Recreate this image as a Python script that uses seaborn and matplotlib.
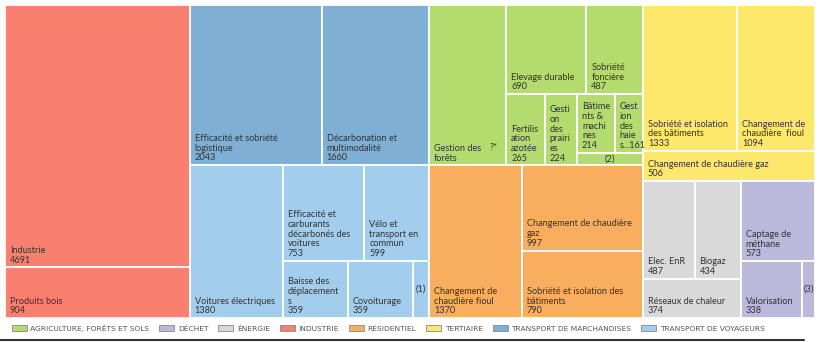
import matplotlib.pyplot as plt
import seaborn as sns
from matplotlib.patches import Patch
from matplotlib.lines import Line2D


# sectors (legend order) and colours
categories = ["AGRICULTURE, FORÊTS ET SOLS", "DÉCHET", "ÉNERGIE", "INDUSTRIE",
              "RÉSIDENTIEL", "TERTIAIRE", "TRANSPORT DE MARCHANDISES",
              "TRANSPORT DE VOYAGEURS"]
sector_colors = ["#B4DB6D", "#BAB8DB", "#D9D9D9", "#F9806F",
                 "#F9AD5E", "#FDE86B", "#7FAFD4", "#A3CDEC"]

# levers per sector
industrie_labels = ["Industrie", "Produits bois"]
industrie_values = [4691, 904]

marchandises_labels = ["Efficacité et sobriété\nlogistique", "Décarbonation et\nmultimodalité"]
marchandises_values = [2043, 1660]

voyageurs_labels = ["Voitures électriques", "Efficacité et\ncarburants\ndécarbonés des\nvoitures",
                    "Vélo et\ntransport en\ncommun", "Baisse des\ndéplacement\ns",
                    "Covoiturage", "(1)"]
voyageurs_values = [1380, 753, 599, 359, 359, 90]

agriculture_labels = ["Gestion des\nforêts", "Elevage durable", "Sobriété\nfoncière",
                      "Fertilis\nation\nazotée", "Gesti\non\ndes\nprairi\nes",
                      "Bâtime\nnts &\nmachi\nnes", "Gest\nion\ndes\nhaie\ns...", "(2)"]
agriculture_values = [1200, 690, 487, 265, 224, 214, 161, 80]  # forêts: shown as "?*"

residentiel_labels = ["Changement de\nchaudière fioul", "Changement de chaudière\ngaz",
                      "Sobriété et isolation des\nbâtiments"]
residentiel_values = [1370, 997, 790]

tertiaire_labels = ["Sobriété et isolation\ndes bâtiments", "Changement de\nchaudière  fioul",
                    "Changement de chaudière gaz"]
tertiaire_values = [1333, 1094, 506]

energie_labels = ["Elec. EnR", "Biogaz", "Réseaux de chaleur"]
energie_values = [487, 434, 374]

dechet_labels = ["Captage de\nméthane", "Valorisation", "(3)"]
dechet_values = [573, 338, 70]

sectors = {
    "ind": (categories[3], industrie_labels, industrie_values),
    "mar": (categories[6], marchandises_labels, marchandises_values),
    "voy": (categories[7], voyageurs_labels, voyageurs_values),
    "agr": (categories[0], agriculture_labels, agriculture_values),
    "res": (categories[4], residentiel_labels, residentiel_values),
    "ter": (categories[5], tertiaire_labels, tertiaire_values),
    "ene": (categories[2], energie_labels, energie_values),
    "dec": (categories[1], dechet_labels, dechet_values),
}

# arrangement: 'h' = side by side, 'v' = stacked top to bottom
tree = ("h", [
    ("v", [("ind", 0), ("ind", 1)]),
    ("v", [("h", [("mar", 0), ("mar", 1)]),
           ("h", [("voy", 0),
                  ("v", [("h", [("voy", 1), ("voy", 2)]),
                         ("h", [("voy", 3), ("voy", 4), ("voy", 5)])])])]),
    ("v", [("h", [("agr", 0),
                  ("v", [("h", [("agr", 1), ("agr", 2)]),
                         ("h", [("agr", 3), ("agr", 4),
                                ("v", [("h", [("agr", 5), ("agr", 6)]), ("agr", 7)])])])]),
           ("h", [("res", 0), ("v", [("res", 1), ("res", 2)])])]),
    ("v", [("v", [("h", [("ter", 0), ("ter", 1)]), ("ter", 2)]),
           ("h", [("v", [("h", [("ene", 0), ("ene", 1)]), ("ene", 2)]),
                  ("v", [("dec", 0), ("h", [("dec", 1), ("dec", 2)])])])]),
])


def size(node):
    if isinstance(node[1], int):
        return sectors[node[0]][2][node[1]]
    return sum(size(k) for k in node[1])


def layout(node, x, y, w, h, out):
    if isinstance(node[1], int):
        out.append((node, x, y, w, h))
        return
    kind, kids = node
    total = size(node)
    if kind == "h":
        pos = x
        for k in kids:
            kw = w * size(k) / total
            layout(k, pos, y, kw, h, out)
            pos += kw
    else:
        top = y + h
        for k in kids:
            kh = h * size(k) / total
            layout(k, x, top - kh, w, kh, out)
            top -= kh


sns.set_theme(style="white")
plt.rcParams['font.family'] = ['Lato', 'DejaVu Sans']
palette = dict(zip(categories, sns.color_palette(sector_colors)))

W, H = 810, 313
cells = []
layout(tree, 0, 0, W, H, cells)

fig = plt.figure(figsize=(8.2, 3.42), dpi=100)
ax = fig.add_axes([5 / 820, 24 / 342, 810 / 820, 313 / 342])

txt_color = "#333333"
fs = 6.6
for (key, i), x, y, w, h in cells:
    cat, labels, values = sectors[key]
    ax.bar(x, h, width=w, bottom=y, align="edge", color=palette[cat],
           edgecolor="white", linewidth=1.3)
    label = labels[i]
    if label.startswith("("):
        ax.text(x + w / 2, y + h / 2, label, ha="center", va="center",
                fontsize=fs, color=txt_color)
        continue
    if key == "agr" and i == 0:
        text = label
        ax.annotate("?*", xy=(x + w, y), xytext=(-6, 9.5), textcoords="offset points",
                    ha="right", va="bottom", fontsize=fs, color=txt_color)
    elif label.endswith("..."):
        text = f"{label}{values[i]}"
    else:
        text = f"{label}\n{values[i]}"
    ax.annotate(text, xy=(x, y), xytext=(3.5, 2), textcoords="offset points",
                ha="left", va="bottom", fontsize=fs, color=txt_color,
                linespacing=1.1)

ax.set_xlim(0, W)
ax.set_ylim(0, H)
ax.axis("off")

handles = [Patch(facecolor=palette[c], edgecolor="#888888", linewidth=0.6) for c in categories]
fig.legend(handles, categories, loc="center left", bbox_to_anchor=(0.006, 0.041),
           ncol=8, frameon=False, handlelength=2.0, handleheight=0.9,
           handletextpad=0.5, columnspacing=1.3,
           prop={"family": ["Liberation Sans Narrow", "DejaVu Sans"], "size": 5.4},
           labelcolor="#555555")

fig.add_artist(Line2D([0, 0.98], [0.006, 0.006], color="#333333", linewidth=1.5))

fig.savefig("out.png", dpi=100)
